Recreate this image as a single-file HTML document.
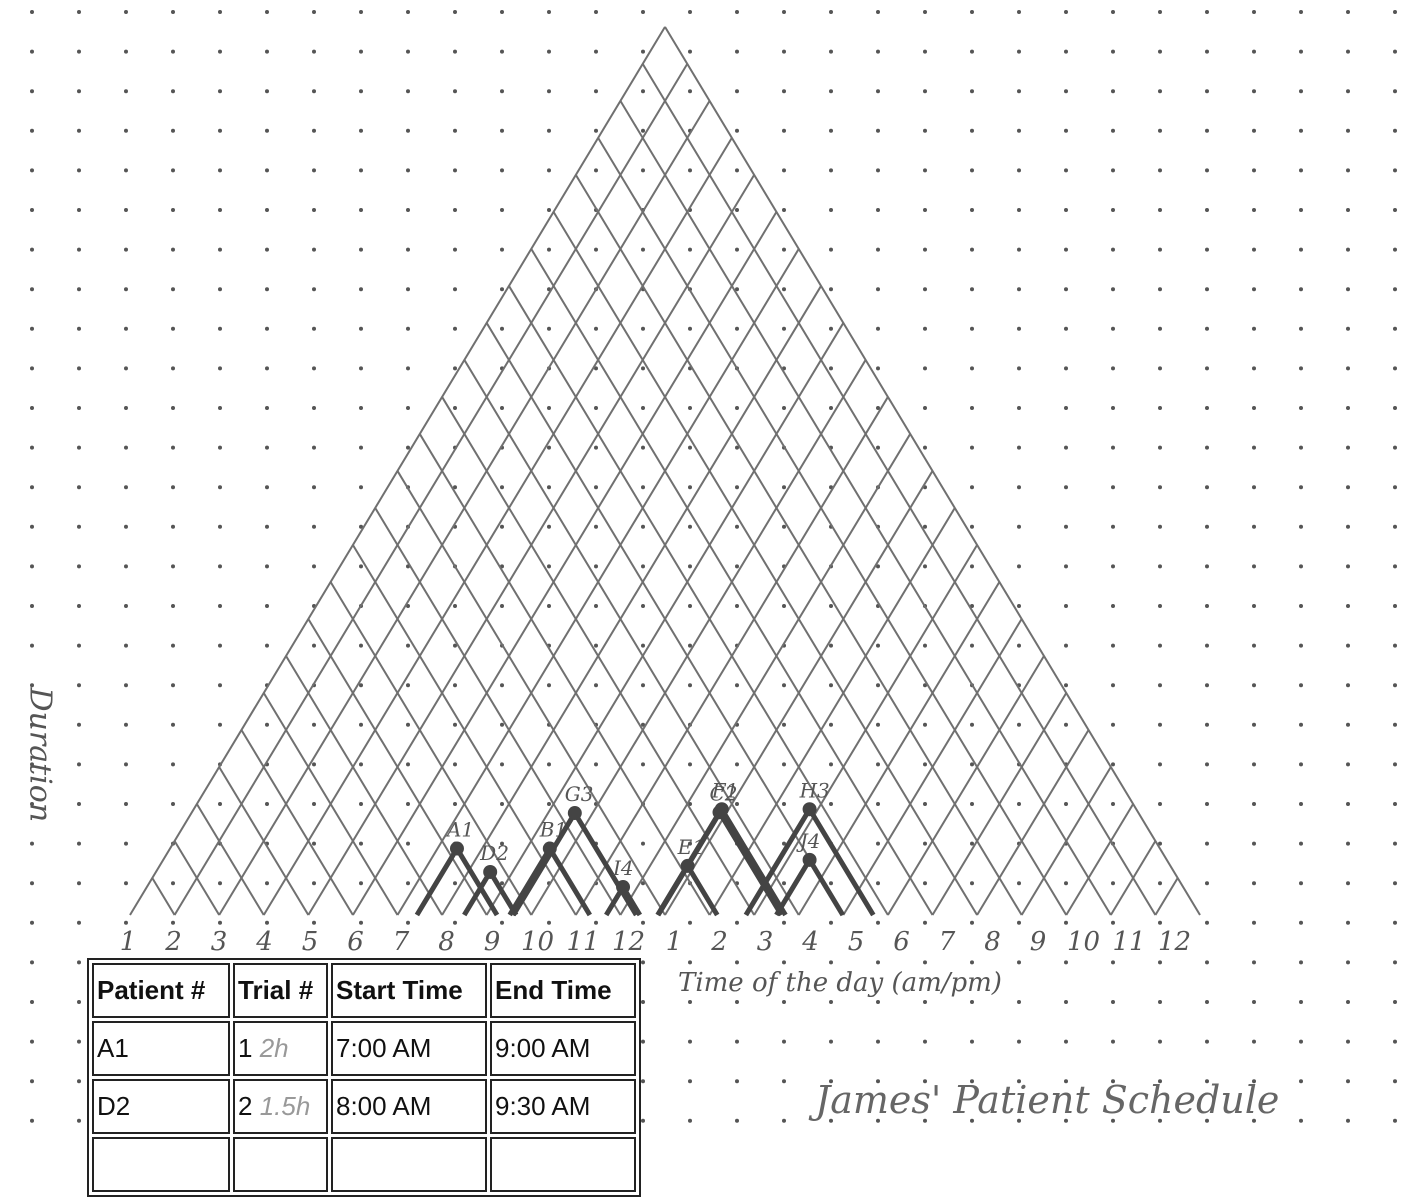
<!DOCTYPE html>
<html><head><meta charset="utf-8">
<style>
html,body{margin:0;padding:0;background:#fff;}
body{width:1408px;height:1148px;position:relative;overflow:hidden;font-family:"Liberation Sans",sans-serif;}
svg{position:absolute;left:0;top:0;}
table{position:absolute;left:87px;top:958px;border-collapse:separate;border-spacing:3px;border:2px solid #222;background:#fff;}
td,th{border:2px solid #222;font-size:26px;padding:0 3px;height:51px;text-align:left;color:#111;white-space:nowrap;}
th{font-weight:bold;}
.hand{font-family:"DejaVu Serif",serif;font-style:italic;color:#555;position:absolute;}
</style></head>
<body>
<svg id="chart" width="1408" height="1148"></svg>
<div class="hand" style="left:678px;top:968px;font-size:26px;">Time of the day (am/pm)</div>
<div class="hand" style="left:815px;top:1078px;font-size:38px;color:#666;">James' Patient Schedule</div>
<div class="hand" style="left:-20px;top:730px;font-size:30px;transform:rotate(90deg);transform-origin:center;width:120px;text-align:center;">Duration</div>
<table>
<tr><th style="width:128px">Patient #</th><th style="width:85px">Trial #</th><th style="width:146px">Start Time</th><th style="width:136px">End Time</th></tr>
<tr><td>A1</td><td>1 <span style="color:#999;font-style:italic">2h</span></td><td>7:00 AM</td><td>9:00 AM</td></tr>
<tr><td>D2</td><td>2 <span style="color:#999;font-style:italic">1.5h</span></td><td>8:00 AM</td><td>9:30 AM</td></tr>
<tr><td>&nbsp;</td><td></td><td></td><td></td></tr>
</table>
<script>
const hourLabels=["1","2","3","4","5","6","7","8","9","10","11","12","1","2","3","4","5","6","7","8","9","10","11","12"];
const patients=["A1","D2","B1","G3","I4","C2","E1","F1","H3","J4"];
const starts=[7.35,8.39,9.39,9.47,11.51,12.64,12.65,12.65,14.58,15.25];
const ends=[9.11,9.53,11.15,12.17,12.25,15.36,13.95,15.45,17.38,16.71];
const svg=document.getElementById('chart');
const NS='http://www.w3.org/2000/svg';
const base=915,L=130,R=1200,S=1.66;
const xh=h=>128+(h-1)*45.5;
function el(t,a){const e=document.createElementNS(NS,t);for(const k in a)e.setAttribute(k,a[k]);svg.appendChild(e);return e;}
for(let y=12;y<1148;y+=39.6)for(let x=32;x<1408;x+=47){
 const d=el('circle',{cx:x,cy:y,r:2,fill:'#555'});
 
 
}
const n=24,step=(R-L)/n;
for(let i=0;i<=n;i++){
 const b=L+i*step;
 const a=el('line',{x1:b,y1:base,x2:(b+R)/2,y2:base-(R-b)/2*S,stroke:'#707070','stroke-width':2});
 
 
 const c=el('line',{x1:b,y1:base,x2:(L+b)/2,y2:base-(b-L)/2*S,stroke:'#707070','stroke-width':2});
 
 
}
hourLabels.forEach((t,i)=>{
 const tx=el('text',{x:xh(i+1),y:950,'font-size':26,'text-anchor':'middle',fill:'#555','font-family':'DejaVu Serif, serif','font-style':'italic'});
 tx.textContent=t;
 
 
});
patients.forEach((p,i)=>{
 const x0=xh(starts[i]),x1=xh(ends[i]),xm=(x0+x1)/2,h=(x1-x0)/2*S;
 const pl=el('polyline',{points:`${x0},${base} ${xm},${base-h} ${x1},${base}`,fill:'none',stroke:'#444','stroke-width':5});
 
 
 const c=el('circle',{cx:xm,cy:base-h,r:7,fill:'#444'});
 
 
 const t=el('text',{x:xm-10,y:base-h-12,'font-size':20,fill:'#555','font-style':'italic','font-family':'DejaVu Serif, serif'});
 t.textContent=p;
 
 
});
</script>
</body></html>
